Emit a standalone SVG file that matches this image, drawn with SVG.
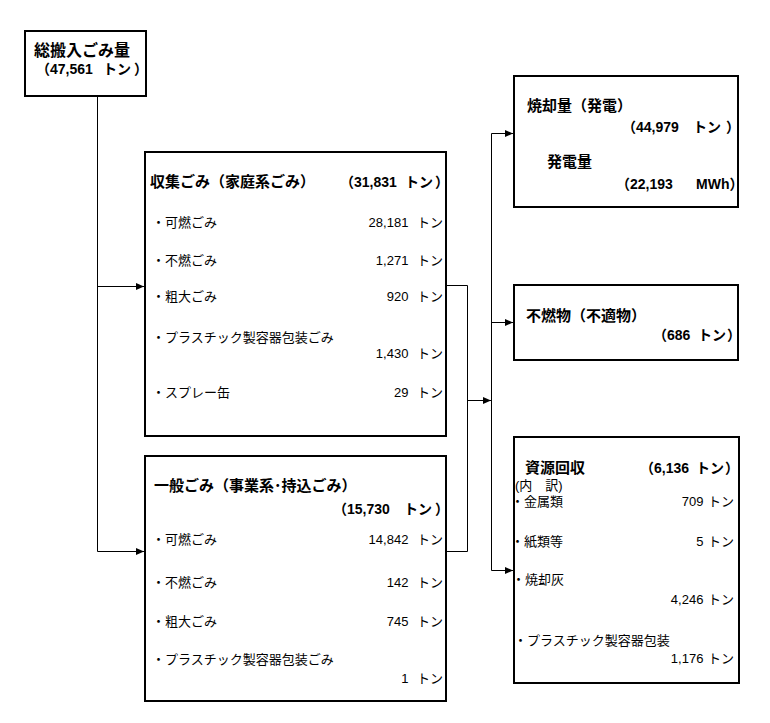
<svg xmlns="http://www.w3.org/2000/svg" width="770" height="723" viewBox="0 0 770 723">
<style>
.box{fill:#fff;stroke:#000;stroke-width:2}
.t{font-family:'Liberation Sans','Noto Sans CJK JP',sans-serif;font-size:13px;fill:#000}
.h{font-weight:bold;font-size:15px}
.a{font-weight:bold;font-size:14px}
.e{text-anchor:end}
.c{stroke:#000;stroke-width:1;fill:none}
</style>
<defs>
<marker id="ah" markerWidth="8" markerHeight="7" refX="8" refY="3.5" orient="auto" markerUnits="userSpaceOnUse"><path d="M0,0 L8,3.5 L0,7 z" fill="#000"/></marker>
</defs>
<rect width="770" height="723" fill="#fff"/>
<g id="connectors" class="c">
<path d="M97.5 96 V551.5"/>
<path d="M97.5 286.5 H144" marker-end="url(#ah)"/>
<path d="M97.5 551.5 H144" marker-end="url(#ah)"/>
<path d="M446 285.5 H467.5 V551.5 H446"/>
<path d="M467.5 400.5 H491" marker-end="url(#ah)"/>
<path d="M491.5 133.5 V570.5"/>
<path d="M491.5 133.5 H513" marker-end="url(#ah)"/>
<path d="M491.5 322.5 H513" marker-end="url(#ah)"/>
<path d="M491.5 570.5 H513" marker-end="url(#ah)"/>
</g>
<g id="total">
<rect class="box" x="25" y="31" width="121" height="65"/>
<text class="t" x="34" y="56" style="font-weight:bold;font-size:16px">総搬入ごみ量</text>
<text class="t a" y="74"><tspan x="36">（47,561</tspan> <tspan x="103">トン</tspan><tspan x="134">）</tspan></text>
</g>
<g id="household">
<rect class="box" x="145" y="152" width="301" height="284"/>
<text class="t h" x="150" y="187">収集ごみ（家庭系ごみ）</text>
<text class="t a" y="187"><tspan x="340">（31,831</tspan> <tspan x="405">トン</tspan><tspan x="435">）</tspan></text>
<text class="t" x="152" y="227">・可燃ごみ</text>
<text class="t e" x="443" y="227">28,181 <tspan dx="5">トン</tspan></text>
<text class="t" x="152" y="265">・不燃ごみ</text>
<text class="t e" x="443" y="265">1,271 <tspan dx="5">トン</tspan></text>
<text class="t" x="152" y="301">・粗大ごみ</text>
<text class="t e" x="443" y="301">920 <tspan dx="5">トン</tspan></text>
<text class="t" x="152" y="342">・プラスチック製容器包装ごみ</text>
<text class="t e" x="443" y="358">1,430 <tspan dx="5">トン</tspan></text>
<text class="t" x="152" y="397">・スプレー缶</text>
<text class="t e" x="443" y="397">29 <tspan dx="5">トン</tspan></text>
</g>
<g id="general">
<rect class="box" x="145" y="456" width="301" height="245"/>
<text class="t h" x="154" y="491">一般ごみ（事業系･持込ごみ）</text>
<text class="t a" y="514"><tspan x="333">（15,730</tspan> <tspan x="404">トン</tspan><tspan x="435">）</tspan></text>
<text class="t" x="152" y="544">・可燃ごみ</text>
<text class="t e" x="443" y="544">14,842 <tspan dx="5">トン</tspan></text>
<text class="t" x="152" y="587">・不燃ごみ</text>
<text class="t e" x="443" y="587">142 <tspan dx="5">トン</tspan></text>
<text class="t" x="152" y="626">・粗大ごみ</text>
<text class="t e" x="443" y="626">745 <tspan dx="5">トン</tspan></text>
<text class="t" x="152" y="664">・プラスチック製容器包装ごみ</text>
<text class="t e" x="443" y="683">1 <tspan dx="5">トン</tspan></text>
</g>
<g id="incineration">
<rect class="box" x="514" y="76" width="224" height="131"/>
<text class="t h" x="527" y="111">焼却量（発電）</text>
<text class="t a" y="132"><tspan x="622">（44,979</tspan> <tspan x="693">トン</tspan><tspan x="726">）</tspan></text>
<text class="t h" x="547" y="167">発電量</text>
<text class="t a" y="189"><tspan x="616">（22,193</tspan> <tspan x="696">MWh）</tspan></text>
</g>
<g id="noncombustible">
<rect class="box" x="514" y="285" width="224" height="75"/>
<text class="t h" x="526" y="321">不燃物（不適物）</text>
<text class="t a" y="340"><tspan x="653">（686</tspan> <tspan x="698">トン</tspan><tspan x="727">）</tspan></text>
</g>
<g id="resource">
<rect class="box" x="514" y="437" width="225" height="246"/>
<text class="t h" x="525" y="473">資源回収</text>
<text class="t a" y="473"><tspan x="640">（6,136</tspan> <tspan x="696">トン</tspan><tspan x="725">）</tspan></text>
<text class="t" x="515" y="490">(内　訳)</text>
<text class="t" x="511" y="506">・金属類</text>
<text class="t e" x="734" y="506">709 <tspan dx="1">トン</tspan></text>
<text class="t" x="511" y="546">・紙類等</text>
<text class="t e" x="734" y="546">5 <tspan dx="1">トン</tspan></text>
<text class="t" x="512" y="584">・焼却灰</text>
<text class="t e" x="734" y="604">4,246 <tspan dx="1">トン</tspan></text>
<text class="t" x="514" y="645">・プラスチック製容器包装</text>
<text class="t e" x="734" y="663">1,176 <tspan dx="1">トン</tspan></text>
</g>
</svg>
